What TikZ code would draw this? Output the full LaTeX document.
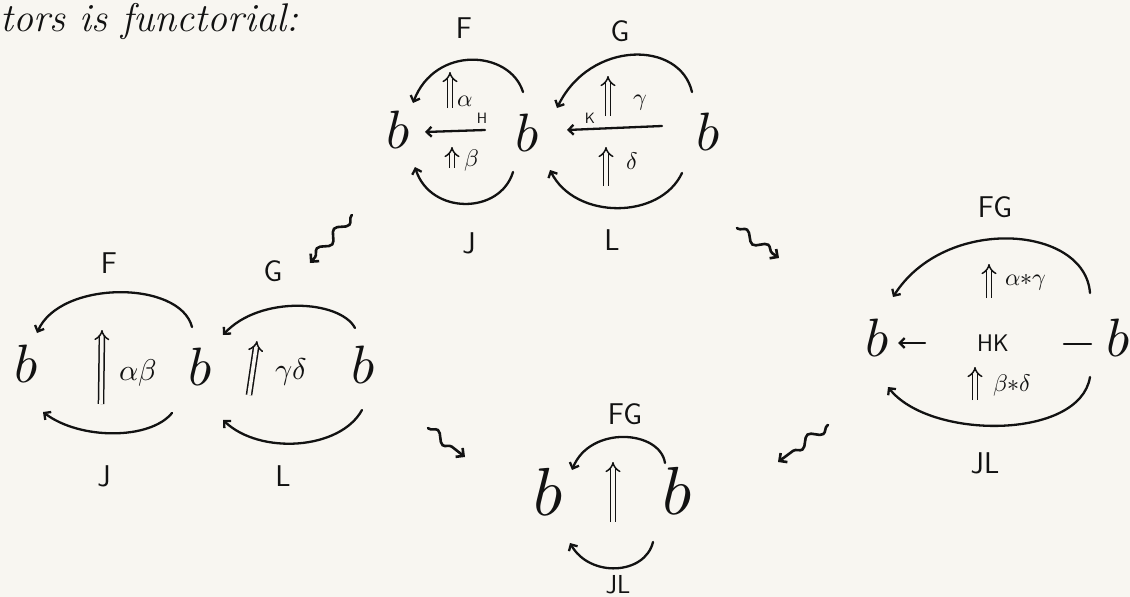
\documentclass[tikz,border=0pt]{standalone}
\usepackage{unicode-math}
\usetikzlibrary{arrows.meta,calc,decorations.pathmorphing}
\definecolor{paper}{RGB}{248,246,241}
\definecolor{ink}{RGB}{18,18,18}
\newcommand{\catb}{\ensuremath{b}}
\tikzset{
  catnode/.style={inner sep=0pt, text=ink, font=\fontsize{54}{54}\selectfont},
  bigcat/.style={catnode, font=\fontsize{68}{68}\selectfont},
  lab/.style={inner sep=0pt, text=ink, font=\sffamily\fontsize{30}{30}\selectfont},
  tinylab/.style={inner sep=0pt, text=ink, font=\sffamily\fontsize{15}{15}\selectfont},
  greek/.style={inner sep=0pt, text=ink, font=\fontsize{24}{24}\selectfont},
  cellarc/.style={draw=ink, line width=2.3pt, line cap=round, -{Straight Barb[angle=90:7pt]}},
  plainarc/.style={draw=ink, line width=2.3pt, line cap=round},
  twocell/.style={draw=ink, double=paper, double distance=3.6pt, line width=1.5pt, -{Implies}},
  squig/.style={draw=ink, line width=2.6pt, line cap=round,
    decorate, decoration={snake, amplitude=4.5pt, segment length=26pt, pre length=1pt, post length=6pt},
    -{Straight Barb[angle=90:8pt]}},
}
\begin{document}
\begin{tikzpicture}[x=1pt, y=-1pt]
\fill[paper] (0,0) rectangle (1130,597);
\useasboundingbox (0,0) rectangle (1130,597);

% heading
\node[anchor=base west, inner sep=0pt, text=ink, font=\itshape\fontsize{40}{40}\selectfont] (head) at (0,31) {tors is functorial:};

% ---------- top: two horizontally composed pastings ----------
\node[catnode] (L0) at (398,130) {\catb};
\node[catnode] (M0) at (527,133) {\catb};
\node[catnode] (R0) at (708,132) {\catb};
\node[lab] (F0) at (464,28) {F};
\node[lab] (G0) at (620,31) {G};
\node[lab] (J0) at (469,243) {J};
\node[lab] (L0lab) at (612,240) {L};
\node[tinylab] (H0) at (482,118) {H};
\node[tinylab] (K0) at (590,118) {K};
\node[greek] (a0) at (465,101) {$\alpha$};
\node[greek] (b0) at (472,160) {$\beta$};
\node[greek] (c0) at (640,103) {$\gamma$};
\node[greek] (d0) at (632,161) {$\delta$};

\draw[cellarc] ($(M0)+(-4,-41)$) .. controls (510,50) and (435,45) .. ($(L0)+(15,-27)$);
\draw[cellarc] ($(M0)+(-14,39)$) .. controls (500,215) and (430,215) .. ($(L0)+(17,37)$);
\draw[cellarc] ($(M0)+(-42,-3)$) -- ($(L0)+(27,2)$);
\draw[cellarc] ($(R0)+(-16,-40)$) .. controls (680,40) and (590,40) .. ($(M0)+(30,-25)$);
\draw[cellarc] ($(R0)+(-26,41)$) .. controls (660,220) and (575,220) .. ($(M0)+(23,37)$);
\draw[cellarc] ($(R0)+(-46,-6)$) -- ($(M0)+(40,-3)$);

\coordinate (ua0) at (450,108); \coordinate (va0) at (450,72);
\coordinate (ub0) at (452,168); \coordinate (vb0) at (452,147);
\coordinate (uc0) at (608,116); \coordinate (vc0) at (608,76);
\coordinate (ud0) at (606,186); \coordinate (vd0) at (606,147);
\draw[twocell] (ua0) -- (va0);
\draw[twocell] (ub0) -- (vb0);
\draw[twocell] (uc0) -- (vc0);
\draw[twocell] (ud0) -- (vd0);

% ---------- left: vertical composites side by side ----------
\node[catnode] (L1) at (26,364) {\catb};
\node[catnode] (M1) at (200,367) {\catb};
\node[catnode] (R1) at (363,365) {\catb};
\node[lab] (F1) at (109,263) {F};
\node[lab] (G1) at (273,271) {G};
\node[lab] (J1) at (104,476) {J};
\node[lab] (L1lab) at (283,476) {L};
\node[greek, font=\fontsize{30}{30}\selectfont] (ab1) at (138,373) {$\alpha\beta$};
\node[greek, font=\fontsize{30}{30}\selectfont] (cd1) at (291,372) {$\gamma\delta$};

\draw[cellarc] ($(M1)+(-8,-40)$) .. controls (180,280) and (60,280) .. ($(L1)+(11,-31)$);
\draw[cellarc] ($(M1)+(-28,46)$) .. controls (150,440) and (80,440) .. ($(L1)+(17,48)$);
\draw[cellarc] ($(R1)+(-8,-37)$) .. controls (340,300) and (260,295) .. ($(M1)+(23,-32)$);
\draw[cellarc] ($(R1)+(-1,45)$) .. controls (340,450) and (260,455) .. ($(M1)+(23,53)$);

\coordinate (uab1) at (101,404); \coordinate (vab1) at (102,330);
\coordinate (ucd1) at (249,395); \coordinate (vcd1) at (257,341);
\draw[twocell] (uab1) -- (vab1);
\draw[twocell] (ucd1) -- (vcd1);

% ---------- right: horizontal composite ----------
\node[catnode] (L2) at (877,338) {\catb};
\node[catnode] (R2) at (1118,338) {\catb};
\node[lab] (FG2) at (995,207) {FG};
\node[lab] (JL2) at (985,463) {JL};
\node[lab, font=\sffamily\fontsize{24}{24}\selectfont] (HK2) at (993,343) {HK};
\node[greek] (ac2) at (1026,283) {$\alpha{*}\gamma$};
\node[greek] (bd2) at (1012,385) {$\beta{*}\delta$};

\draw[cellarc] ($(R2)+(-28,-45)$) .. controls (1085,225) and (945,215) .. ($(L2)+(16,-41)$);
\draw[cellarc] ($(R2)+(-28,39)$) .. controls (1080,440) and (930,440) .. ($(L2)+(11,49)$);
\draw[cellarc] ($(L2)+(48,5)$) -- ($(L2)+(21,5)$);
\draw[plainarc] ($(R2)+(-27,6)$) -- ($(R2)+(-54,6)$);

\coordinate (uac2) at (989,298); \coordinate (vac2) at (989,264);
\coordinate (ubd2) at (975,400); \coordinate (vbd2) at (975,367);
\draw[twocell] (uac2) -- (vac2);
\draw[twocell] (ubd2) -- (vbd2);

% ---------- bottom: the single composite ----------
\node[bigcat] (L3) at (549,492) {\catb};
\node[bigcat] (R3) at (678,491) {\catb};
\node[lab] (FG3) at (625,414) {FG};
\node[lab, font=\sffamily\fontsize{26}{26}\selectfont] (JL3) at (618,585) {JL};

\draw[cellarc] ($(R3)+(-13,-28)$) .. controls (660,430) and (590,425) .. ($(L3)+(23,-22)$);
\draw[cellarc] ($(R3)+(-25,51)$) .. controls (645,575) and (590,578) .. ($(L3)+(21,51)$);

\coordinate (u3) at (613,522); \coordinate (v3) at (613,462);
\draw[twocell] (u3) -- (v3);

% ---------- squiggly comparison arrows ----------
\coordinate (s1a) at (352,215); \coordinate (s1b) at (310,263);
\coordinate (s2a) at (737,228); \coordinate (s2b) at (779,258);
\coordinate (s3a) at (428,428); \coordinate (s3b) at (465,457);
\coordinate (s4a) at (828,425); \coordinate (s4b) at (778,462);
\draw[squig] (s1a) -- (s1b);
\draw[squig] (s2a) -- (s2b);
\draw[squig] (s3a) -- (s3b);
\draw[squig] (s4a) -- (s4b);
\end{tikzpicture}
\end{document}
